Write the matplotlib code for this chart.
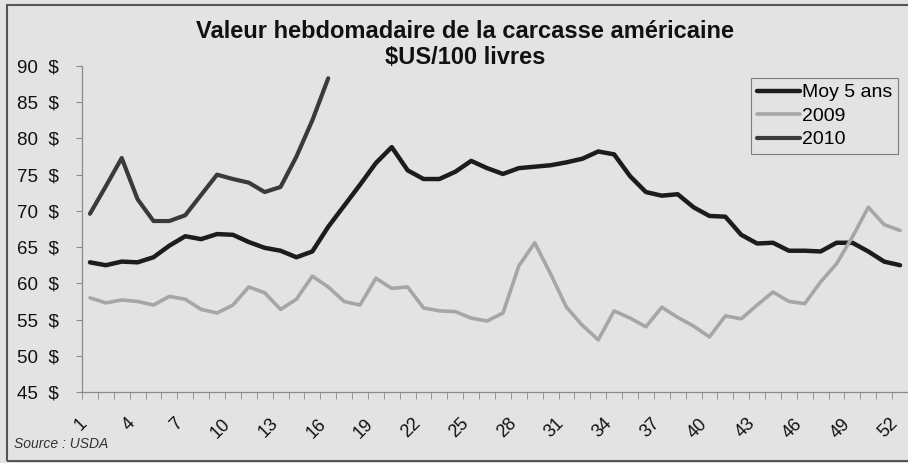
import matplotlib
matplotlib.use("Agg")
import matplotlib.pyplot as plt
import matplotlib.transforms as mtrans
import numpy as np

plt.rcParams['font.family'] = ['Liberation Sans', 'DejaVu Sans']

# valeurs hebdomadaires ($US/100 livres)
semaines = list(range(1, 53))
moy_5_ans = [62.9, 62.5, 63.0, 62.9, 63.6, 65.2, 66.5, 66.1, 66.8, 66.7,
             65.7, 64.9, 64.5, 63.6, 64.4, 67.8, 70.7, 73.6, 76.6, 78.8,
             75.6, 74.4, 74.4, 75.4, 76.9, 75.9, 75.1, 75.9, 76.1, 76.3,
             76.7, 77.2, 78.2, 77.8, 74.8, 72.6, 72.1, 72.3, 70.5, 69.3,
             69.2, 66.7, 65.5, 65.6, 64.5, 64.5, 64.4, 65.6, 65.6, 64.4,
             63.0, 62.5]
an_2009 = [58.0, 57.3, 57.7, 57.5, 57.0, 58.2, 57.8, 56.4, 55.9, 57.0,
           59.5, 58.7, 56.4, 57.8, 61.0, 59.5, 57.5, 57.0, 60.7, 59.3,
           59.5, 56.6, 56.2, 56.1, 55.2, 54.8, 55.9, 62.4, 65.6, 61.3,
           56.7, 54.2, 52.2, 56.2, 55.2, 54.0, 56.7, 55.3, 54.1, 52.6,
           55.5, 55.1, 57.0, 58.8, 57.5, 57.2, 60.2, 62.7, 66.4, 70.5,
           68.1, 67.3]
an_2010 = [69.6, 73.4, 77.3, 71.6, 68.6, 68.6, 69.4, 72.2, 75.0, 74.4,
           73.9, 72.6, 73.3, 77.5, 82.5, 88.3]
y_ticks = [45, 50, 55, 60, 65, 70, 75, 80, 85, 90]
x_labels = list(range(1, 53, 3))

bg = '#e3e3e3'
fig = plt.figure(figsize=(9.08, 4.63), dpi=100, facecolor=bg)
ax = fig.add_axes([82/908, 1 - 392/463, 1 - 82/908, (392 - 66)/463])
ax.set_facecolor(bg)

ax.plot(semaines, moy_5_ans, color='#1c1c1c', lw=3.2, label='Moy 5 ans',
        solid_joinstyle='round', solid_capstyle='round')
ax.plot(semaines, an_2009, color='#a6a6a6', lw=2.6, label='2009',
        solid_joinstyle='round', solid_capstyle='round')
ax.plot(semaines[:len(an_2010)], an_2010, color='#3a3a3a', lw=3.0, label='2010',
        solid_joinstyle='round', solid_capstyle='round')

ax.set_xlim(0.5, 51.8)
ax.set_ylim(45, 90)

for s in ['top', 'right']:
    ax.spines[s].set_visible(False)
for s in ['left', 'bottom']:
    ax.spines[s].set_color('#8a8a8a')
    ax.spines[s].set_linewidth(0.9)

ax.set_yticks(y_ticks)
ax.set_yticklabels([f"{v}  $" for v in y_ticks])
ax.tick_params(axis='y', length=4, color='#8a8a8a', pad=13, labelsize=13.5,
               labelcolor='#111111')

ax.set_xticks(x_labels)
ax.set_xticklabels([str(v) for v in x_labels], rotation=45, ha='right',
                   va='center', rotation_mode='anchor')
ax.set_xticks(np.arange(0.5, 53, 1), minor=True)
ax.tick_params(axis='x', which='major', length=0, pad=21, labelsize=13,
               labelcolor='#111111')
ax.tick_params(axis='x', which='minor', length=5, color='#8a8a8a')
off = mtrans.ScaledTranslation(-5/100, 0, fig.dpi_scale_trans)
for lab in ax.get_xticklabels():
    lab.set_transform(lab.get_transform() + off)

leg = ax.legend(loc='upper right', bbox_to_anchor=(898/908, 1 - 78/463),
                bbox_transform=fig.transFigure, fontsize=14,
                frameon=True, fancybox=False, handlelength=2.2,
                handletextpad=0.1, borderpad=0.3, labelspacing=0.3,
                borderaxespad=0)
leg.get_frame().set_facecolor(bg)
leg.get_frame().set_edgecolor('#666666')
leg.get_frame().set_linewidth(0.8)

fig.text(465/908, 1 - 38/463, "Valeur hebdomadaire de la carcasse américaine",
         ha='center', va='baseline', fontsize=17, fontweight='bold', color='#111111')
fig.text(465/908, 1 - 64/463, "$US/100 livres",
         ha='center', va='baseline', fontsize=17, fontweight='bold', color='#111111')
fig.text(14/908, 1 - 448/463, "Source : USDA", ha='left', va='baseline',
         fontsize=10, style='italic', color='#333333')

# cadre autour du graphique
fig.patches.append(plt.Rectangle((7/908, 1 - 461/463), 1.2, (461 - 5)/463,
                                 transform=fig.transFigure, fill=False,
                                 edgecolor='#555555', lw=1.5))

fig.savefig("out.png", dpi=100, facecolor=bg)
